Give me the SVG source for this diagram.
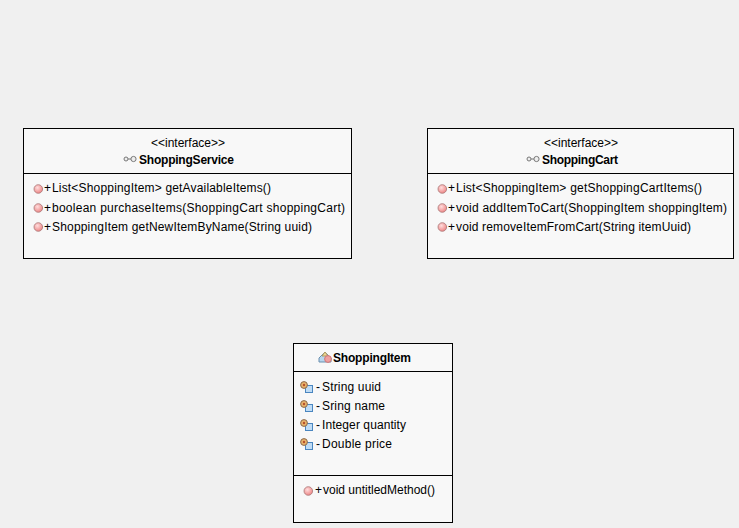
<svg xmlns="http://www.w3.org/2000/svg" width="739" height="528" viewBox="0 0 739 528">
<style>
.box{fill:#f8f8f8;stroke:#000;stroke-width:1;shape-rendering:crispEdges}
.div{stroke:#000;stroke-width:1;shape-rendering:crispEdges}
text{font-family:"Liberation Sans",Arial,sans-serif;font-size:12px;fill:#000}
.b{font-weight:bold}
.m{text-anchor:middle}
</style>
<defs>
<radialGradient id="red" cx="0.4" cy="0.35" r="0.7"><stop offset="0" stop-color="#fdd"/><stop offset="1" stop-color="#ec8080"/></radialGradient>
<g id="op"><circle cx="0.300" cy="0" r="4.300" fill="url(#red)" stroke="#a77" stroke-width="0.8"/></g>
<g id="iface"><circle cx="-4" cy="0" r="2" fill="#eee" stroke="#777"/><line x1="-2" y1="0" x2="1" y2="0" stroke="#777"/><circle cx="3.500" cy="0" r="2.600" fill="#eee" stroke="#777"/></g>
<g id="attr"><rect x="0.500" y="-1.500" width="7" height="7" fill="#bfdcf5" stroke="#4a86c0"/><circle cx="-1" cy="-2" r="3.400" fill="#e9b36a" stroke="#8a6a50"/><circle cx="-1" cy="-2" r="1.200" fill="#b5502e"/></g>
<g id="cls"><path d="M-6 1 L0 -5 L6 1 V5 H-6 Z" fill="#b8d6ee" stroke="#6a8fae"/><path d="M-3 -1 L0 -5 L3 -1 Z" fill="#f0d890" stroke="#b09a60"/><circle cx="3" cy="2" r="3.400" fill="#f0a0a0" stroke="#c77"/></g>
</defs>
<rect width="739" height="528" fill="#f0f0f0"/>
<g id="connectors"/>
<g id="ShoppingService">
<rect class="box" x="23.500" y="128.500" width="328" height="130"/>
<line class="div" x1="23" y1="173.500" x2="352" y2="173.500"/>
<text class="m" x="188" y="147">&lt;&lt;interface&gt;&gt;</text>
<use href="#iface" x="130" y="159"/>
<text class="b" x="139" y="164" textLength="95">ShoppingService</text>
<use href="#op" x="38" y="189"/><text y="192"><tspan x="44">+</tspan><tspan x="52" textLength="219">List&lt;ShoppingItem&gt; getAvailableItems()</tspan></text>
<use href="#op" x="38" y="208"/><text y="212"><tspan x="44">+</tspan><tspan x="52" textLength="293">boolean purchaseItems(ShoppingCart shoppingCart)</tspan></text>
<use href="#op" x="38" y="227"/><text y="231"><tspan x="44">+</tspan><tspan x="52" textLength="260">ShoppingItem getNewItemByName(String uuid)</tspan></text>
</g>
<g id="ShoppingCart">
<rect class="box" x="427.500" y="128.500" width="306" height="130"/>
<line class="div" x1="427" y1="173.500" x2="734" y2="173.500"/>
<text class="m" x="581" y="147">&lt;&lt;interface&gt;&gt;</text>
<use href="#iface" x="533" y="159"/>
<text class="b" x="542" y="164" textLength="76">ShoppingCart</text>
<use href="#op" x="442" y="189"/><text y="192"><tspan x="448">+</tspan><tspan x="456" textLength="246">List&lt;ShoppingItem&gt; getShoppingCartItems()</tspan></text>
<use href="#op" x="442" y="208"/><text y="212"><tspan x="448">+</tspan><tspan x="456" textLength="271">void addItemToCart(ShoppingItem shoppingItem)</tspan></text>
<use href="#op" x="442" y="227"/><text y="231"><tspan x="448">+</tspan><tspan x="456" textLength="235">void removeItemFromCart(String itemUuid)</tspan></text>
</g>
<g id="ShoppingItem">
<rect class="box" x="293.500" y="343.500" width="159" height="179"/>
<line class="div" x1="293" y1="371.500" x2="453" y2="371.500"/>
<line class="div" x1="293" y1="475.500" x2="453" y2="475.500"/>
<use href="#cls" x="325" y="357"/>
<text class="b" x="333" y="362" textLength="78">ShoppingItem</text>
<use href="#attr" x="305" y="387"/><text y="391"><tspan x="316">-</tspan><tspan x="322" textLength="59">String uuid</tspan></text>
<use href="#attr" x="305" y="406"/><text y="410"><tspan x="316">-</tspan><tspan x="322" textLength="63">Sring name</tspan></text>
<use href="#attr" x="305" y="425"/><text y="429"><tspan x="316">-</tspan><tspan x="322" textLength="84">Integer quantity</tspan></text>
<use href="#attr" x="305" y="444"/><text y="448"><tspan x="316">-</tspan><tspan x="322" textLength="70">Double price</tspan></text>
<use href="#op" x="308" y="491"/><text y="494"><tspan x="315">+</tspan><tspan x="323" textLength="112">void untitledMethod()</tspan></text>
</g>
</svg>
